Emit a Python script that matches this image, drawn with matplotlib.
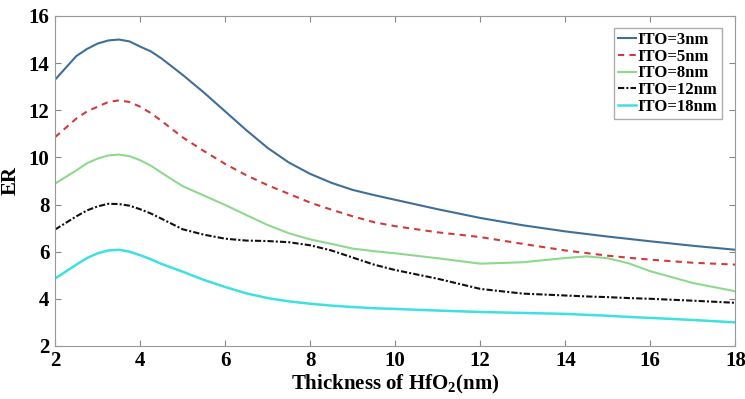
import numpy as np
import matplotlib
matplotlib.use('Agg')
import matplotlib.pyplot as plt

plt.rcParams['font.family'] = ['Liberation Serif', 'DejaVu Serif']
plt.rcParams['font.weight'] = 'bold'
plt.rcParams['mathtext.fontset'] = 'custom'
plt.rcParams['mathtext.rm'] = 'Liberation Serif:bold'

# HfO2 thickness (nm)
thickness = [2, 2.5, 2.75, 3, 3.25, 3.5, 3.75, 4, 4.25, 4.5, 5, 5.5, 6, 6.5, 7, 7.5, 8, 8.5, 9, 9.5,
             10, 11, 12, 13, 14, 14.5, 15, 15.5, 16, 17, 18]

# ER for each ITO thickness
er_ito3 = [13.3, 14.3, 14.6, 14.83, 14.96, 15.0, 14.92, 14.7, 14.5, 14.2, 13.5, 12.75, 11.95, 11.15, 10.4,
           9.78, 9.3, 8.92, 8.62, 8.4, 8.2, 7.8, 7.43, 7.12, 6.86, 6.75, 6.64, 6.54, 6.44, 6.25, 6.08]
er_ito5 = [10.86, 11.65, 11.95, 12.15, 12.35, 12.42, 12.35, 12.15, 11.88, 11.55, 10.85, 10.27, 9.72, 9.24, 8.82,
           8.45, 8.08, 7.78, 7.5, 7.25, 7.08, 6.82, 6.62, 6.33, 6.05, 5.94, 5.83, 5.74, 5.66, 5.53, 5.45]
er_ito8 = [8.89, 9.45, 9.75, 9.95, 10.08, 10.12, 10.05, 9.88, 9.65, 9.35, 8.78, 8.38, 7.98, 7.55, 7.13,
           6.78, 6.52, 6.33, 6.13, 6.02, 5.93, 5.72, 5.49, 5.55, 5.73, 5.8, 5.72, 5.5, 5.17, 4.67, 4.32]
er_ito12 = [6.94, 7.5, 7.75, 7.92, 8.03, 8.02, 7.95, 7.8, 7.62, 7.4, 6.95, 6.72, 6.55, 6.47, 6.45,
            6.4, 6.27, 6.05, 5.75, 5.45, 5.22, 4.85, 4.42, 4.22, 4.14, 4.1, 4.07, 4.03, 4.0, 3.92, 3.83]
er_ito18 = [4.86, 5.45, 5.73, 5.93, 6.05, 6.08, 6.0, 5.85, 5.68, 5.48, 5.15, 4.8, 4.5, 4.23, 4.03,
            3.89, 3.79, 3.71, 3.65, 3.6, 3.57, 3.5, 3.44, 3.4, 3.36, 3.32, 3.28, 3.23, 3.19, 3.1, 3.0]

labels = ['ITO=3nm', 'ITO=5nm', 'ITO=8nm', 'ITO=12nm', 'ITO=18nm']

fig = plt.figure(figsize=(7.45, 3.99), dpi=100)
ax = fig.add_axes([0.074, 0.133, 0.913, 0.827])

ax.plot(thickness, er_ito3, color='#3f6f98', lw=1.5, ls='-', label=labels[0])
ax.plot(thickness, er_ito5, color='#d03a3a', lw=1.5, ls=(0, (3, 2.5)), label=labels[1])
ax.plot(thickness, er_ito8, color='#8fd88f', lw=1.5, ls='-', label=labels[2])
ax.plot(thickness, er_ito12, color='#111111', lw=1.5, ls=(0, (3, 1, 1, 1)), label=labels[3])
ax.plot(thickness, er_ito18, color='#3fe0e0', lw=1.8, ls='-', label=labels[4])

ax.set_xlim(2, 18)
ax.set_ylim(2, 16)
ax.set_xticks(np.arange(2, 19, 2))
ax.set_yticks(np.arange(2, 17, 2))
ax.tick_params(direction='in', top=True, right=True, labelsize=15, length=4, color='#888888', pad=4)
for s in ax.spines.values():
    s.set_color('#999999')

ax.set_xlabel(r'Thickness of HfO$_2$(nm)', fontsize=15, fontweight='bold', labelpad=1)
ax.set_ylabel('ER', fontsize=15, fontweight='bold')
ax.yaxis.set_label_coords(-0.05, 0.5)

leg = ax.legend(loc='upper right', bbox_to_anchor=(0.985, 0.975), fontsize=12, frameon=True,
                fancybox=False, handlelength=1.1, handletextpad=0.1, borderpad=0.25,
                labelspacing=0.05, borderaxespad=0.2)
leg.get_frame().set_edgecolor('#999999')
leg.get_frame().set_linewidth(1.0)

fig.savefig('out.png', dpi=100)
